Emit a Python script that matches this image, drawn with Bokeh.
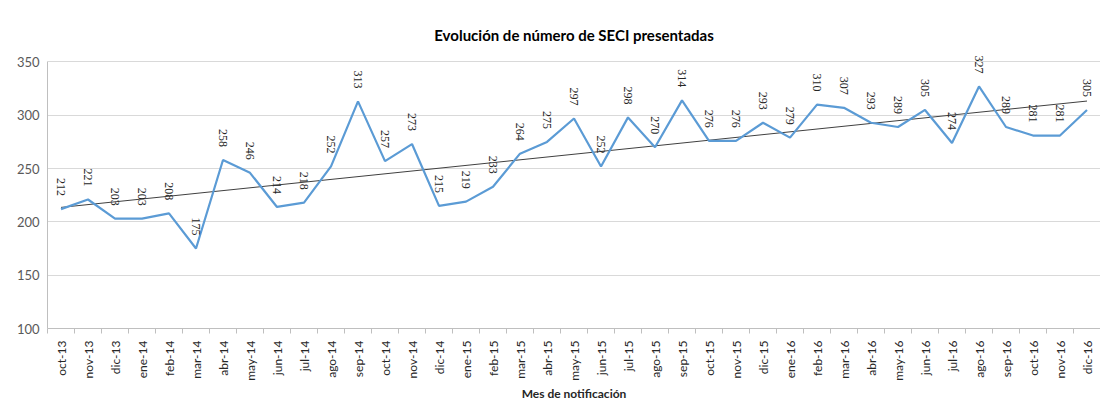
import numpy as np
from bokeh.plotting import figure
from bokeh.models import ColumnDataSource, FixedTicker, Range1d, LabelSet, Title
from bokeh.embed import file_html
from bokeh.resources import INLINE

months = ["oct-13", "nov-13", "dic-13",
          "ene-14", "feb-14", "mar-14", "abr-14", "may-14", "jun-14", "jul-14", "ago-14", "sep-14", "oct-14", "nov-14", "dic-14",
          "ene-15", "feb-15", "mar-15", "abr-15", "may-15", "jun-15", "jul-15", "ago-15", "sep-15", "oct-15", "nov-15", "dic-15",
          "ene-16", "feb-16", "mar-16", "abr-16", "may-16", "jun-16", "jul-16", "ago-16", "sep-16", "oct-16", "nov-16", "dic-16"]
counts = [212, 221, 203,
          203, 208, 175, 258, 246, 214, 218, 252, 313, 257, 273, 215,
          219, 233, 264, 275, 297, 252, 298, 270, 314, 276, 276, 293,
          279, 310, 307, 293, 289, 305, 274, 327, 289, 281, 281, 305]
y_ticks = [100, 150, 200, 250, 300, 350]

FONT = "Lato"
idx = np.arange(len(months))
slope, intercept = np.polyfit(idx, counts, 1)
trend = slope * idx + intercept

src = ColumnDataSource(dict(x=idx, y=counts, lab=[str(v) for v in counts], t=trend))

p = figure(width=1100, height=400, output_backend="svg", toolbar_location=None,
           x_range=Range1d(-0.5, len(months) - 0.5), y_range=Range1d(100, 357),
           min_border_left=47, min_border_right=0, min_border_top=54, min_border_bottom=60)

p.title.text = "Evolución de número de SECI presentadas"
p.title.align = "center"
p.title.text_font = FONT
p.title.text_font_size = "15px"
p.title.text_font_style = "bold"
p.title.text_color = "#000000"
p.title.standoff = 22

p.line("x", "t", source=src, line_color="#404040", line_width=1)
p.line("x", "y", source=src, line_color="#5B9BD5", line_width=2.2)
labels = LabelSet(x="x", y="y", text="lab", source=src, angle=-np.pi / 2, text_align="right",
                  text_baseline="middle", y_offset=13, text_font=FONT,
                  text_font_size="12px", text_color="#262626")
p.add_layout(labels)

p.outline_line_color = None
p.xgrid.grid_line_color = None
p.ygrid.grid_line_color = "#D9D9D9"
p.ygrid.grid_line_width = 1.2

p.yaxis.ticker = FixedTicker(ticks=y_ticks)
p.yaxis.bounds = (100, 350)
p.yaxis.axis_line_color = "#BFBFBF"
p.yaxis.major_tick_line_color = None
p.yaxis.minor_tick_line_color = None
p.yaxis.major_tick_out = 0
p.yaxis.major_tick_in = 0
p.yaxis.major_label_text_font = FONT
p.yaxis.major_label_text_font_size = "13px"
p.yaxis.major_label_text_color = "#595959"
p.yaxis.major_label_standoff = 8

p.xaxis.ticker = FixedTicker(ticks=list(idx), minor_ticks=[i - 0.5 for i in range(len(months) + 1)])
p.xaxis.major_label_overrides = {int(i): m for i, m in zip(idx, months)}
p.xaxis.major_label_orientation = np.pi / 2
p.xaxis.major_tick_line_color = None
p.xaxis.major_tick_out = 0
p.xaxis.major_tick_in = 0
p.xaxis.minor_tick_line_color = "#BFBFBF"
p.xaxis.minor_tick_out = 5
p.xaxis.minor_tick_in = 0
p.xaxis.axis_line_color = "#BFBFBF"
p.xaxis.major_label_text_font = FONT
p.xaxis.major_label_text_font_size = "12px"
p.xaxis.major_label_text_color = "#262626"
p.xaxis.major_label_standoff = 7

xlabel = Title(text="Mes de notificación", align="center", text_font=FONT,
               text_font_size="12px", text_font_style="bold", text_color="#262626",
               standoff=0, offset=0)
p.add_layout(xlabel, "below")

open("out.html", "w").write(file_html(p, INLINE))
